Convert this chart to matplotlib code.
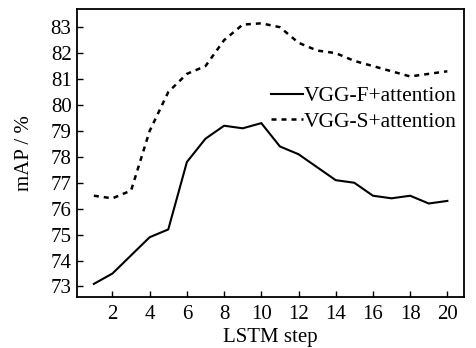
import matplotlib
matplotlib.use("Agg")
import matplotlib.pyplot as plt

plt.rcParams['font.family'] = ['Liberation Serif', 'DejaVu Serif']

steps = list(range(1, 21))
vgg_f = [73.1, 73.5, 74.2, 74.9, 75.2, 77.8, 78.7, 79.2, 79.1, 79.3,
         78.4, 78.1, 77.6, 77.1, 77.0, 76.5, 76.4, 76.5, 76.2, 76.3]
vgg_s = [76.5, 76.4, 76.7, 79.0, 80.5, 81.2, 81.5, 82.5, 83.1, 83.15,
         83.0, 82.4, 82.1, 82.0, 81.7, 81.5, 81.3, 81.1, 81.2, 81.3]
labels = ["VGG-F+attention", "VGG-S+attention"]

fig = plt.figure(figsize=(4.76, 3.48), dpi=100)
ax = fig.add_axes([0.162, 0.147, 0.813, 0.827])

ax.plot(steps, vgg_f, color='black', lw=1.5, ls='-', label=labels[0])
ax.plot(steps, vgg_s, color='black', lw=1.8, ls=(0, (2, 2)), label=labels[1])

ax.set_xlim(0.1, 20.9)
ax.set_ylim(72.6, 83.7)
ax.set_xticks(range(2, 21, 2))
ax.set_yticks(range(73, 84))
ax.tick_params(direction='in', length=4, width=1, labelsize=15)
ax.tick_params(axis='x', pad=6)
ax.tick_params(axis='y', pad=4)
for s in ax.spines.values():
    s.set_linewidth(1.3)

ax.set_xlabel("LSTM step", fontsize=15, labelpad=3)
ax.set_ylabel("mAP / %", fontsize=15, labelpad=12)

ax.legend(loc='upper right', bbox_to_anchor=(1.02, 0.785), frameon=False,
          fontsize=15.5, handlelength=1.5, handletextpad=0.05, labelspacing=0.25,
          borderpad=0.2)

fig.savefig("out.png", dpi=100)
